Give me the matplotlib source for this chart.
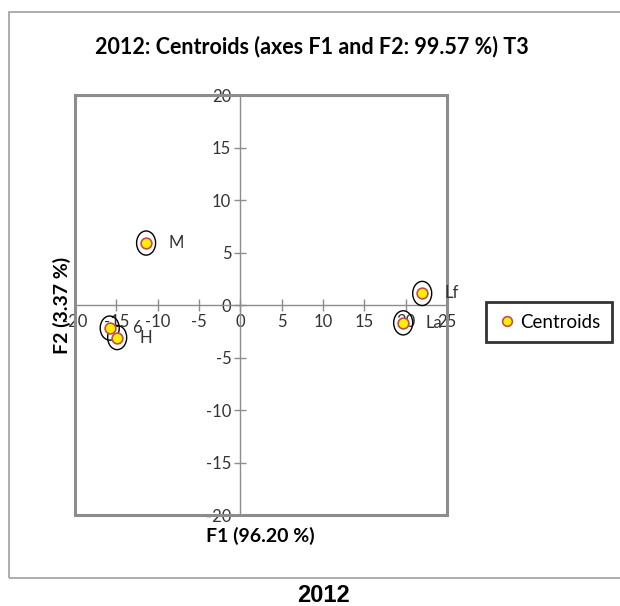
"""Centroids plot (axes F1 and F2), 2012, T3."""
import matplotlib
matplotlib.use('Agg')
import matplotlib.pyplot as plt
from matplotlib.patches import Ellipse, Rectangle
from matplotlib.lines import Line2D

plt.rcParams.update({'font.family': ['Lato', 'DejaVu Sans'], 'font.size': 11})

# centroid coordinates
labels = ['6', 'H', 'M', 'Lf', 'La']
f1 = [-15.8, -14.9, -11.4, 22.0, 19.7]
f2 = [-2.2, -3.1, 5.9, 1.1, -1.7]
x_ticks = [-20, -15, -10, -5, 0, 5, 10, 15, 20, 25]
y_ticks = [-20, -15, -10, -5, 0, 5, 10, 15, 20]

GRID_GRAY = '#8c8c8c'
FILL = '#ffee00'
EDGE = '#c0504d'

fig = plt.figure(figsize=(6.2, 6.06), dpi=100)

# outer chart frame
fig.patches.append(Rectangle((9 / 620, 1 - 578 / 606), 0.99, (578 - 12) / 606,
                             transform=fig.transFigure, fill=False,
                             edgecolor='#a0a0a0', linewidth=1.2))

ax = fig.add_axes([75 / 620, 1 - 515 / 606, (447 - 75) / 620, (515 - 95) / 606])
ax.set_xlim(-20, 25)
ax.set_ylim(-20, 20)

for s in ['top', 'right']:
    ax.spines[s].set_visible(False)
ax.spines['left'].set_position(('data', 0))
ax.spines['bottom'].set_position(('data', 0))
for s in ['left', 'bottom']:
    ax.spines[s].set_color(GRID_GRAY)
    ax.spines[s].set_linewidth(1.0)

# plot-area box
ax.add_patch(Rectangle((0, 0), 1, 1, transform=ax.transAxes, fill=False,
                       edgecolor=GRID_GRAY, linewidth=2.2, zorder=5, clip_on=False))

ax.set_xticks(x_ticks)
ax.set_yticks(y_ticks)
ax.set_xticklabels([str(v) for v in x_ticks])
ax.set_yticklabels([str(v) for v in y_ticks])
ax.tick_params(direction='inout', length=9, width=1.0, color=GRID_GRAY,
               labelsize=12, labelcolor='#333333', pad=2)

# confidence ellipses and centroids
for x, y, lab in zip(f1, f2, labels):
    ax.add_patch(Ellipse((x, y), 2.3, 2.3, fill=False, edgecolor='black',
                         linewidth=1.0, zorder=6))
    ax.annotate(lab, (x, y), xytext=(16, 0), textcoords='offset points',
                ha='left', va='center', fontsize=12, color='#333333', zorder=7)
ax.scatter(f1, f2, s=60, color=FILL, edgecolors=EDGE, linewidths=1.2, zorder=7)

fig.text(312 / 620, 1 - 47 / 606, '2012: Centroids (axes F1 and F2: 99.57 %) T3',
         ha='center', va='center', fontsize=15.5, fontweight='bold')
fig.text(260 / 620, 1 - 536 / 606, 'F1 (96.20 %)', ha='center', va='center',
         fontsize=14, fontweight='bold')
fig.text(62 / 620, 1 - 305 / 606, 'F2 (3.37 %)', ha='center', va='center',
         rotation=90, fontsize=14, fontweight='bold')
fig.text(324 / 620, 1 - 595 / 606, '2012', ha='center', va='center',
         fontsize=17, fontweight='bold', family='Liberation Sans')

handle = Line2D([0], [0], marker='o', linestyle='none', markerfacecolor=FILL,
                markeredgecolor=EDGE, markersize=7, markeredgewidth=1.2)
leg = fig.legend([handle], ['Centroids'], loc='center',
                 bbox_to_anchor=(549 / 620, 1 - 322 / 606), fontsize=13.5,
                 frameon=True, fancybox=False, handletextpad=0.2,
                 handlelength=1.0, borderpad=0.6)
leg.get_frame().set_edgecolor('black')
leg.get_frame().set_linewidth(2.0)

fig.savefig('out.png', dpi=100)
